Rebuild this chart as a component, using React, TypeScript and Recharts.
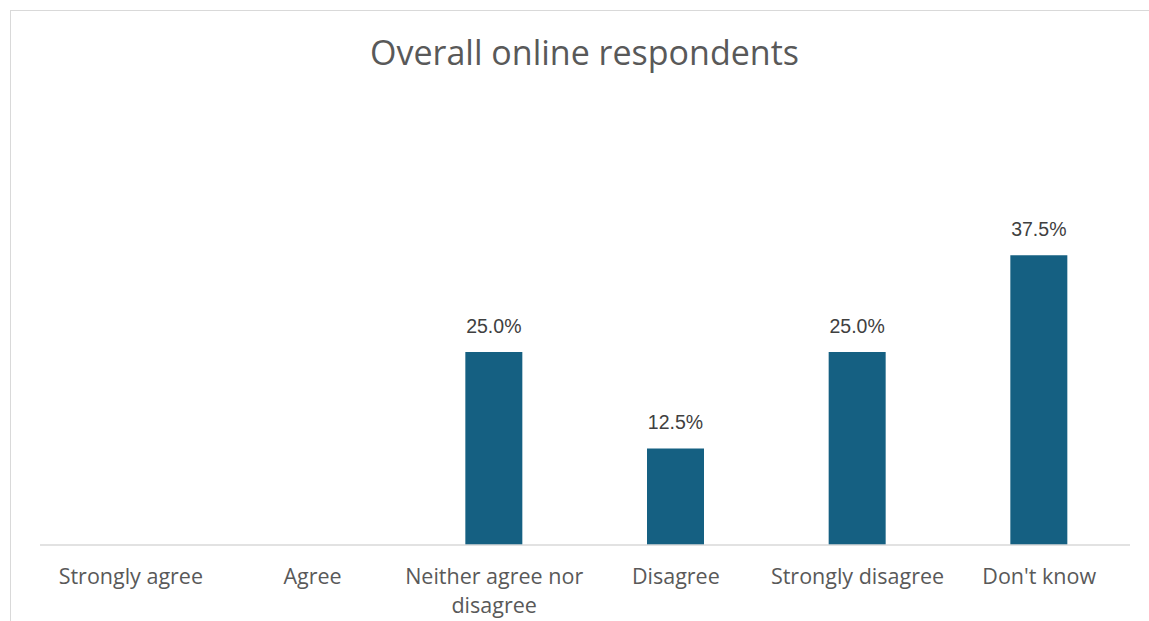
import React from "react";
import { BarChart, Bar, XAxis, YAxis, LabelList } from "recharts";

const categories = ["Strongly agree", "Agree", "Neither agree nor disagree", "Disagree", "Strongly disagree", "Don't know"];
const shares = [0, 0, 0.25, 0.125, 0.25, 0.375];
const tickLines: Record<string, string[]> = {
  "Neither agree nor disagree": ["Neither agree nor", "disagree"],
};

const data = categories.map((c, i) => ({ name: c, value: shares[i] }));

const FONT = "'Open Sans', 'Noto Sans', sans-serif";
const LABEL_FONT = "'Liberation Sans', Arial, sans-serif";

function Tick(props: any) {
  const { x, y, payload } = props;
  const lines = tickLines[payload.value] || [payload.value];
  return (
    <g>
      {lines.map((l, i) => (
        <text
          key={i}
          x={x}
          y={y + 22 + i * 29}
          textAnchor="middle"
          dominantBaseline="central"
          fontSize={21.5}
          fill="#595959"
          fontFamily={FONT}
        >
          {l}
        </text>
      ))}
    </g>
  );
}

function ValueLabel(props: any) {
  const { x, y, width, value } = props;
  if (!value) return null;
  return (
    <text
      x={x + width / 2}
      y={y - 26}
      textAnchor="middle"
      dominantBaseline="central"
      fontSize={19.5}
      fill="#404040"
      fontFamily={LABEL_FONT}
    >
      {(value * 100).toFixed(1)}%
    </text>
  );
}

export default function App() {
  return (
    <div style={{ position: "fixed", left: 0, top: 0, width: 1149, height: 621, overflow: "hidden", background: "#fff" }}>
      {/* chart frame: only top and left edges are inside the picture */}
      <div
        style={{
          position: "absolute",
          left: 10,
          top: 10,
          right: 0,
          bottom: 0,
          borderTop: "1.5px solid #d9d9d9",
          borderLeft: "1.5px solid #d9d9d9",
        }}
      />
      <div
        style={{
          position: "absolute",
          left: 0,
          width: 1169,
          top: 31,
          textAlign: "center",
          fontFamily: FONT,
          fontSize: 34,
          color: "#595959",
          lineHeight: "42px",
        }}
      >
        Overall online respondents
      </div>
      <div style={{ position: "absolute", left: 0, top: 0 }}>
        <BarChart
          width={1149}
          height={621}
          data={data}
          margin={{ top: 236, right: 19, bottom: 16, left: 40 }}
          barSize={57}
        >
          <YAxis hide domain={[0, 0.4]} />
          <XAxis
            dataKey="name"
            height={60}
            tick={<Tick />}
            tickLine={false}
            axisLine={{ stroke: "#d9d9d9", strokeWidth: 1.5 }}
            interval={0}
          />
          <Bar dataKey="value" fill="#156082" isAnimationActive={false}>
            <LabelList dataKey="value" content={<ValueLabel />} />
          </Bar>
        </BarChart>
      </div>
    </div>
  );
}
